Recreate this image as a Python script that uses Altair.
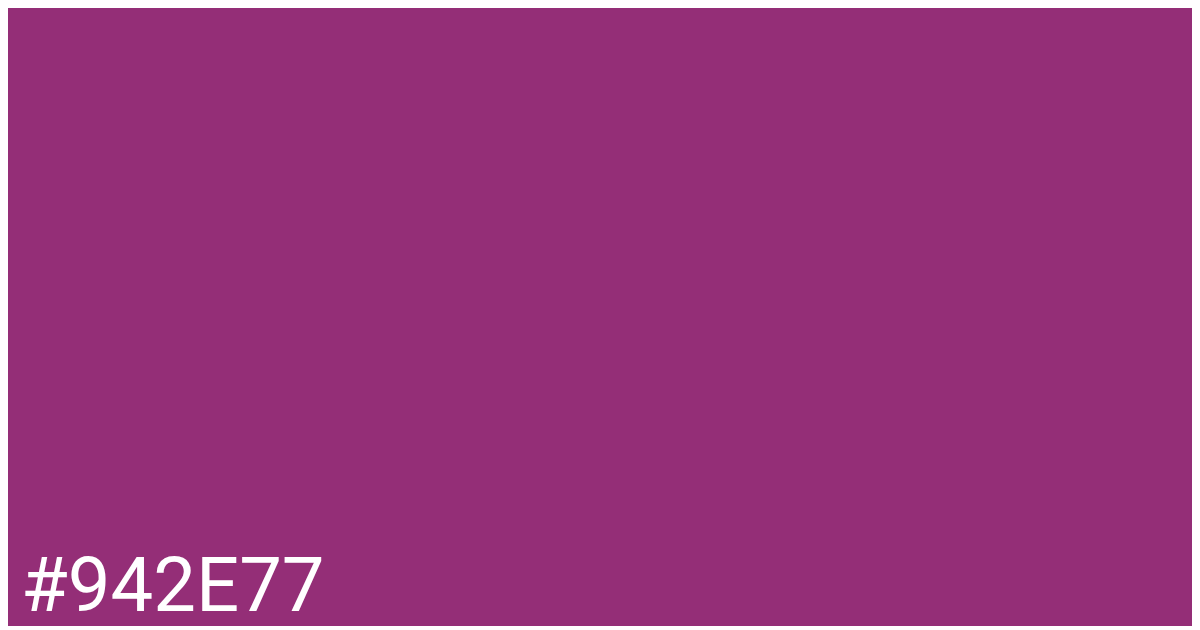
import altair as alt
import pandas as pd

labels = ["#942E77"]
colours = ["#942E77"]

df = pd.DataFrame({"label": labels, "colour": colours})

W, H = 1184, 614

bg = alt.Chart(df).mark_rect().encode(
    x=alt.value(0), x2=alt.value(W), y=alt.value(0), y2=alt.value(H),
    color=alt.Color("colour:N", scale=None, legend=None),
)

txt = alt.Chart(df).mark_text(
    align="left", baseline="alphabetic", font="Roboto", fontSize=76,
    color="#ffffff",
).encode(
    x=alt.value(13), y=alt.value(603), text="label:N",
)

chart = alt.layer(bg, txt).properties(
    width=W, height=H, padding=0, background="#942E77",
).configure_view(strokeWidth=0)

chart.save("out.html", embed_options={"renderer": "svg", "actions": False})
